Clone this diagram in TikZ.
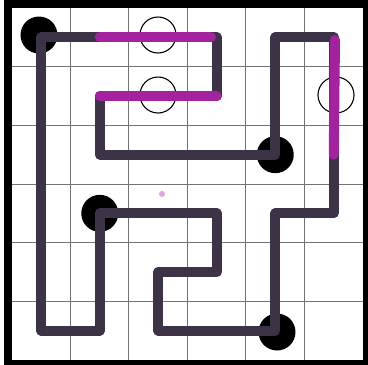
\documentclass[tikz,border=0pt]{standalone}
\begin{document}
\begin{tikzpicture}[x=1pt,y=-1pt,
  gridline/.style={draw=black!55,line width=1pt},
  frameline/.style={draw=black,line width=8pt},
  loopline/.style={draw=pathdark,line width=10pt,line join=round,line cap=round},
  hiline/.style={draw=pathhi,line width=10pt,line join=round,line cap=round},
  blackdot/.style={circle,fill=black,minimum size=37pt,inner sep=0pt},
  whitedot/.style={circle,draw=black,line width=1.1pt,minimum size=36pt,inner sep=0pt}]
\definecolor{pathdark}{HTML}{3D3347}
\definecolor{pathhi}{HTML}{A3229F}
\useasboundingbox (0,0) rectangle (368,365);
\clip (0,0) rectangle (368,365);
% grid
\foreach \i in {1,...,5} {
  \draw[gridline] (12+58.5*\i,8) -- (12+58.5*\i,360);
  \draw[gridline] (12,8+58.67*\i) -- (363,8+58.67*\i);
}
% frame
\draw[frameline] (8,4) rectangle (367,364);
% cell centres
\foreach \i in {0,...,5} {
  \foreach \j in {0,...,5} {
    \coordinate (c\i\j) at (41.25+58.5*\i,37.33+58.67*\j);
  }
}
% circles
\node[blackdot] (b1) at (39,35) {};
\node[blackdot] (b2) at (c42) {};
\node[blackdot] (b3) at (c13) {};
\node[blackdot] (b4) at (277,332) {};
\node[whitedot] (w1) at (158,35) {};
\node[whitedot] (w2) at (158,95) {};
\node[whitedot] (w3) at (336,95) {};
% loop
\draw[loopline] (c00) -- (c30) -- (c31) -- (c11) -- (c12) -- (c42) -- (c40) -- (c50)
  -- (c53) -- (c43) -- (c45) -- (c25) -- (c24) -- (c34) -- (c33) -- (c13) -- (c15)
  -- (c05) -- cycle;
% highlighted segments
\draw[hiline] (c10) -- (211,37.33);
\draw[hiline] (c11) -- (c31);
\draw[hiline] (335,40) -- (c52);
% stray marks
\fill[pathhi!40] (162,194) circle (3);
\end{tikzpicture}
\end{document}
